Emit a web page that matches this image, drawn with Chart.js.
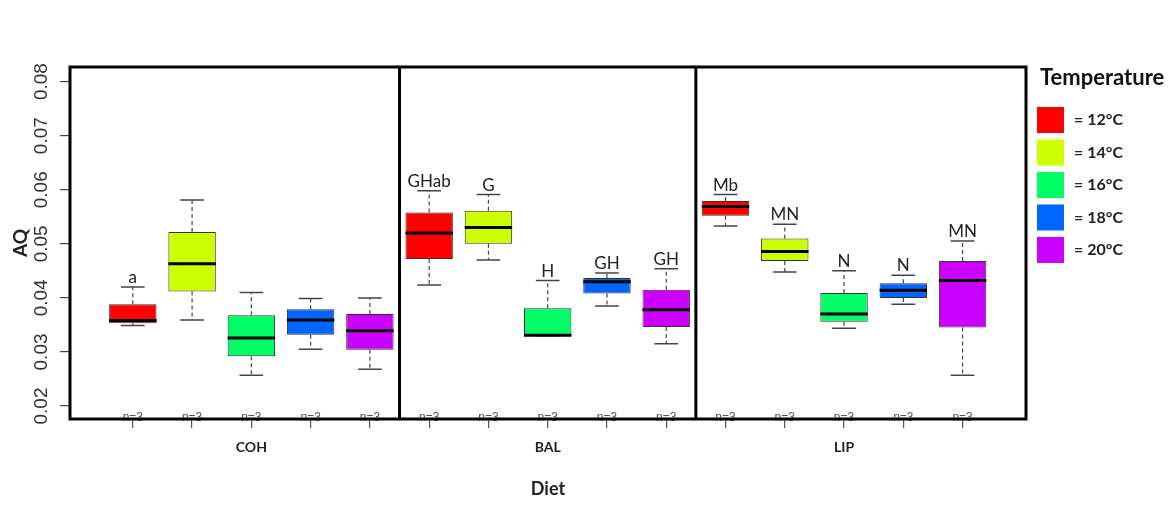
<!DOCTYPE html>
<html>
<head>
<meta charset="utf-8">
<script src="https://cdn.jsdelivr.net/npm/chart.js@4.4.1/dist/chart.umd.min.js"></script>
<style>
  html, body { margin: 0; padding: 0; background: #fff; }
  #wrap { width: 1173px; height: 522px; }
</style>
</head>
<body>
<div id="wrap"><canvas id="aq-chart" width="1173" height="522"></canvas></div>
<script>
var diets = ['COH', 'BAL', 'LIP'];
var temps = ['12°C', '14°C', '16°C', '18°C', '20°C'];
var yTicks = [0.02, 0.03, 0.04, 0.05, 0.06, 0.07, 0.08];

// five-number summaries, one row per diet, one column per temperature
var whiskerLow = [
  [0.0349, 0.0359, 0.0257, 0.0305, 0.0268],
  [0.0424, 0.0470, 0.0330, 0.0385, 0.0315],
  [0.0533, 0.0448, 0.0344, 0.0388, 0.0257]
];
var q1 = [
  [0.0353, 0.0412, 0.0292, 0.0332, 0.0304],
  [0.0472, 0.0500, 0.0330, 0.0408, 0.0346],
  [0.0552, 0.0468, 0.0356, 0.0400, 0.0345]
];
var median = [
  [0.0358, 0.0463, 0.0326, 0.0359, 0.0339],
  [0.0520, 0.0530, 0.0331, 0.0430, 0.0378],
  [0.0569, 0.0486, 0.0370, 0.0414, 0.0432]
];
var q3 = [
  [0.0388, 0.0522, 0.0368, 0.0379, 0.0370],
  [0.0558, 0.0561, 0.0381, 0.0437, 0.0415],
  [0.0579, 0.0510, 0.0409, 0.0427, 0.0468]
];
var whiskerHigh = [
  [0.0420, 0.0581, 0.0410, 0.0399, 0.0400],
  [0.0598, 0.0591, 0.0432, 0.0446, 0.0454],
  [0.0591, 0.0536, 0.0450, 0.0442, 0.0505]
];
var letters = [
  ['a', '', '', '', ''],
  ['GHab', 'G', 'H', 'GH', 'GH'],
  ['Mb', 'MN', 'N', 'N', 'MN']
];
var nObs = [
  [3, 3, 3, 3, 3],
  [3, 3, 3, 3, 3],
  [3, 3, 3, 3, 3]
];

var colors = ['#FF0000', '#CCFF00', '#00FF66', '#0066FF', '#CC00FF'];

function pos(d, t) { return d * 5 + t + 1; }

var positions = [];
diets.forEach(function (d, i) {
  temps.forEach(function (tp, t) { positions.push(pos(i, t)); });
});

var datasets = temps.map(function (temp, t) {
  return {
    label: '= ' + temp,
    data: diets.map(function (d, i) { return { x: pos(i, t), y: [q1[i][t], q3[i][t]] }; }),
    backgroundColor: colors[t],
    borderColor: '#333',
    borderWidth: 1,
    borderSkipped: false,
    barPercentage: 0.8,
    categoryPercentage: 1
  };
});

var boxPlugin = {
  id: 'boxes',
  beforeDatasetsDraw: function (chart) {
    var ctx = chart.ctx, y = chart.scales.y;
    ctx.save();
    datasets.forEach(function (ds, t) {
      chart.getDatasetMeta(t).data.forEach(function (bar, i) {
        var cap = bar.width * 0.25;
        ctx.strokeStyle = '#444';
        ctx.lineWidth = 1.2;
        ctx.setLineDash([4, 3]);
        ctx.beginPath();
        ctx.moveTo(bar.x, y.getPixelForValue(q3[i][t]));
        ctx.lineTo(bar.x, y.getPixelForValue(whiskerHigh[i][t]));
        ctx.moveTo(bar.x, y.getPixelForValue(q1[i][t]));
        ctx.lineTo(bar.x, y.getPixelForValue(whiskerLow[i][t]));
        ctx.stroke();
        ctx.setLineDash([]);
        ctx.lineWidth = 1.5;
        ctx.beginPath();
        [whiskerHigh, whiskerLow].forEach(function (arr) {
          var py = y.getPixelForValue(arr[i][t]);
          ctx.moveTo(bar.x - cap, py);
          ctx.lineTo(bar.x + cap, py);
        });
        ctx.stroke();
      });
    });
    ctx.restore();
  },
  afterDatasetsDraw: function (chart) {
    var ctx = chart.ctx, x = chart.scales.x, y = chart.scales.y, area = chart.chartArea;
    ctx.save();
    datasets.forEach(function (ds, t) {
      chart.getDatasetMeta(t).data.forEach(function (bar, i) {
        var half = bar.width / 2;
        var my = y.getPixelForValue(median[i][t]);
        ctx.strokeStyle = '#000';
        ctx.lineWidth = 3;
        ctx.beginPath();
        ctx.moveTo(bar.x - half, my);
        ctx.lineTo(bar.x + half, my);
        ctx.stroke();

        ctx.fillStyle = '#222';
        ctx.font = '17px Lato';
        ctx.textAlign = 'center';
        ctx.textBaseline = 'alphabetic';
        ctx.fillText(letters[i][t], bar.x, y.getPixelForValue(whiskerHigh[i][t]) - 4);

        ctx.fillStyle = '#555';
        ctx.font = '12px "Liberation Sans"';
        ctx.fillText('n=' + nObs[i][t], bar.x, area.bottom + 2);
      });
    });
    // frame and panel dividers
    ctx.strokeStyle = '#000';
    ctx.lineWidth = 3;
    ctx.strokeRect(area.left, area.top, area.right - area.left, area.bottom - area.top);
    [5.5, 10.5].forEach(function (v) {
      var px = x.getPixelForValue(v);
      ctx.beginPath();
      ctx.moveTo(px, area.top);
      ctx.lineTo(px, area.bottom);
      ctx.stroke();
    });
    ctx.restore();
  },
  afterDraw: function (chart) {
    var ctx = chart.ctx;
    ctx.save();
    ctx.fillStyle = '#111';
    ctx.font = 'bold 22px Lato';
    ctx.textAlign = 'left';
    ctx.textBaseline = 'middle';
    ctx.fillText('Temperature', 1040, 78);
    temps.forEach(function (temp, t) {
      var top = 107 + t * 32.5;
      ctx.fillStyle = colors[t];
      ctx.fillRect(1037, top, 27, 26);
      ctx.fillStyle = '#222';
      ctx.font = 'bold 16px Lato';
      ctx.fillText('= ' + temp, 1074, top + 13);
    });
    ctx.restore();
  }
};

var chart = new Chart(document.getElementById('aq-chart').getContext('2d'), {
  type: 'bar',
  data: { datasets: datasets },
  options: {
    responsive: false,
    animation: false,
    grouped: false,
    layout: { padding: { top: 67, right: 147, bottom: 22, left: 0 } },
    plugins: {
      legend: { display: false },
      tooltip: { enabled: false }
    },
    scales: {
      x: {
        type: 'linear',
        min: -0.06,
        max: 16.07,
        offset: false,
        afterBuildTicks: function (scale) {
          scale.ticks = positions.map(function (v) { return { value: v }; });
        },
        afterFit: function (scale) { scale.height = 81; },
        grid: { offset: false, drawOnChartArea: false, drawTicks: true, tickLength: 9, color: '#555', lineWidth: 1.2 },
        border: { display: false },
        ticks: {
          autoSkip: false,
          maxRotation: 0,
          padding: 11,
          color: '#222',
          font: { family: 'Lato', size: 14, weight: 'bold' },
          callback: function (v) { return (v - 3) % 5 === 0 ? diets[(v - 3) / 5] : ''; }
        },
        title: {
          display: true,
          text: 'Diet',
          color: '#222',
          padding: { top: 0, bottom: 0 },
          font: { family: 'Lato', size: 18, weight: 'bold' }
        }
      },
      y: {
        min: 0.0176,
        max: 0.0827,
        afterBuildTicks: function (scale) {
          scale.ticks = yTicks.map(function (v) { return { value: v }; });
        },
        afterFit: function (scale) { scale.width = 70; },
        grid: { drawOnChartArea: false, drawTicks: true, tickLength: 10, color: '#444', lineWidth: 1.2 },
        border: { display: false },
        ticks: {
          minRotation: 90,
          maxRotation: 90,
          crossAlign: 'center',
          padding: 0,
          color: '#333',
          font: { family: '"Liberation Sans", Arial', size: 19 },
          callback: function (v) { return v.toFixed(2); }
        },
        title: {
          display: true,
          text: 'AQ',
          color: '#222',
          padding: { top: 9, bottom: 0 },
          font: { family: 'Lato', size: 19, weight: 'bold' }
        }
      }
    }
  },
  plugins: [boxPlugin]
});
</script>
</body>
</html>
